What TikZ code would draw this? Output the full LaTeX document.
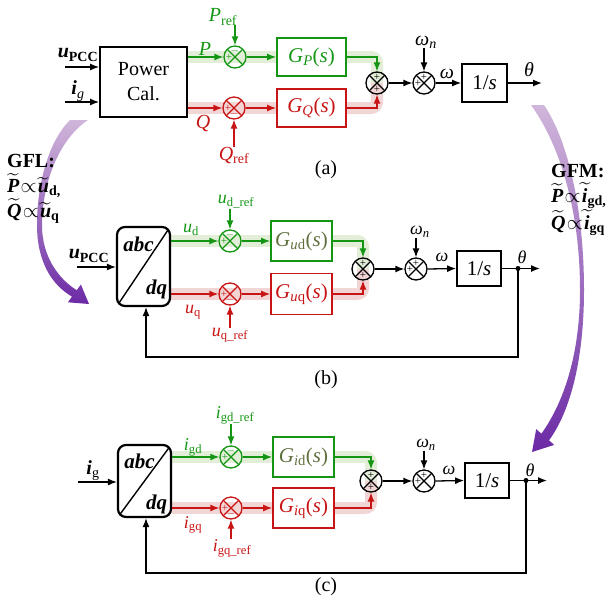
\documentclass[tikz,border=0pt]{standalone}
\usepackage{amsmath}
\usepackage{fontspec}
\setmainfont{Liberation Serif}
\usepackage{tikz}
\usetikzlibrary{positioning, arrows.meta, calc, backgrounds}

\definecolor{gcol}{RGB}{20,150,20}
\definecolor{rcol}{RGB}{200,20,20}
\definecolor{gbandc}{RGB}{226,238,216}
\definecolor{rbandc}{RGB}{242,213,213}
\definecolor{gtxt}{RGB}{95,112,62}
\definecolor{swlight}{RGB}{208,182,218}
\definecolor{swdark}{RGB}{108,42,165}

\newcommand{\tl}[1]{\widetilde{\text{\textbf{\textit{#1}}}}}
\newcommand{\prp}{\mkern1mu{\propto}\mkern1mu}

\tikzset{
  box/.style={draw, line width=1.8pt, inner sep=0pt, font=\fontsize{21}{24}\selectfont},
  gbox/.style={box, draw=gcol, text=gcol},
  rbox/.style={box, draw=rcol, text=rcol},
  dqbox/.style={draw, line width=2.2pt, rounded corners=8pt, minimum width=53pt, inner sep=0pt,
    path picture={\draw[line width=1.4pt] (path picture bounding box.south west) -- (path picture bounding box.north east);}},
  sumc/.style={circle, draw=#1, line width=1.3pt, minimum size=22pt, inner sep=0pt,
    path picture={\draw[#1, line width=1.1pt] (path picture bounding box.north west) -- (path picture bounding box.south east)
      (path picture bounding box.north east) -- (path picture bounding box.south west);}},
  sumc/.default=black,
  sgn/.style={inner sep=0pt, font=\fontsize{11}{11}\selectfont},
  sig/.style={-{Latex[length=9pt,width=7pt]}, line width=1.3pt},
  gline/.style={sig, draw=gcol},
  rline/.style={sig, draw=rcol},
  gband/.style={line width=12pt, draw=gbandc, rounded corners=6pt},
  rband/.style={line width=12pt, draw=rbandc, rounded corners=6pt},
  lbl/.style={inner sep=0pt},
  slbl/.style={inner sep=0pt, font=\fontsize{18}{21}\selectfont},
  tapdot/.style={circle, fill, inner sep=0pt, minimum size=5pt},
  bi/.style={inner sep=0pt, font=\fontsize{21}{24}\selectfont\bfseries\itshape},
  note/.style={inner sep=0pt, align=left, anchor=north west, font=\fontsize{20}{25}\selectfont\bfseries},
}

\begin{document}
\begin{tikzpicture}[x=1pt, y=-1pt, font=\fontsize{20}{24}\selectfont]
\useasboundingbox (0,0) rectangle (616,598);

% purple swooshes
\shade[top color=swlight, bottom color=swdark]
  (70,120) .. controls (48,142) and (37,185) .. (37,225)
  .. controls (37,262) and (52,285) .. (72,296.6) -- (67.9,302.3) -- (89,304)
  -- (80.9,284.5) -- (76.8,290.2) .. controls (60,280) and (42,258) .. (42,225)
  .. controls (42,185) and (58,140) .. (88,120) -- cycle;
\shade[top color=swlight, bottom color=swdark]
  (544,105) .. controls (568,140) and (584,210) .. (584,290)
  .. controls (584,360) and (570,412) .. (549,440.3) -- (554.2,444.9) -- (532,452)
  -- (536.2,429.1) -- (541.4,433.7) .. controls (562,405) and (580,358) .. (580,290)
  .. controls (580,215) and (562,148) .. (531,105) -- cycle;

\node[note] (gfl) at (7,154) {GFL:\\
  $\tl{P}\prp\tl{u}_{\text{\textbf{d,}}}$\\
  $\tl{Q}\prp\tl{u}_{\text{\textbf{q}}}$};
\node[note] (gfm) at (551,164) {GFM:\\
  $\tl{P}\prp\tl{i}_{\text{\textbf{gd,}}}$\\
  $\tl{Q}\prp\tl{i}_{\text{\textbf{gq}}}$};

%% (a)
\node[box, minimum width=87pt, minimum height=70pt, align=center, font=\fontsize{20}{25}\selectfont] (pcal) at (143.5,82) {Power\\Cal.};
\coordinate (uA) at (65,67);
\coordinate (iA) at (65,102);
\draw[sig] (uA) -- (uA -| pcal.west);
\draw[sig] (iA) -- (iA -| pcal.west);
\node[lbl] (uAl) at (78,55) {\textbf{\textit{u}}$_{\text{\textbf{PCC}}}$};
\node[lbl] (iAl) at (78,91) {\textbf{\textit{i}}$_{\textit{g}}$};

\node[sumc=gcol] (sP) at (235,57) {};
\node[sgn, text=gcol] (sPa) at ($(sP)+(-6,0)$) {+};
\node[sgn, text=gcol] (sPb) at ($(sP)+(0,-6)$) {$-$};
\node[lbl, text=gcol] (Pl) at (205,49) {\textit{P}};
\node[lbl, text=gcol] (Pref) at (223,17) {\textit{P}$_{\text{ref}}$};
\node[gbox, minimum width=69pt, minimum height=38pt] (GP) at (311.5,57) {\textit{G}$_{\textit{P}}$(\textit{s})};
\draw[gline] (pcal.east |- sP) -- (sP.west);
\draw[gline] (Pref.south -| sP) -- (sP.north);
\draw[gline] (sP.east) -- (GP.west);

\node[sumc=rcol] (sQ) at (234,108) {};
\node[sgn, text=rcol] (sQa) at ($(sQ)+(-6,0)$) {+};
\node[sgn, text=rcol] (sQb) at ($(sQ)+(0,6)$) {$-$};
\node[lbl, text=rcol] (Ql) at (203,123) {\textit{Q}};
\node[lbl, text=rcol] (Qref) at (234,155) {\textit{Q}$_{\text{ref}}$};
\node[rbox, minimum width=69pt, minimum height=38pt] (GQ) at (311.5,108) {\textit{G}$_{\textit{Q}}$(\textit{s})};
\draw[rline] (pcal.east |- sQ) -- (sQ.west);
\draw[rline] (Qref.north -| sQ) -- (sQ.south);
\draw[rline] (sQ.east) -- (GQ.west);

\node[sumc] (sA) at (377,83) {};
\node[sgn] (sAa) at ($(sA)+(0,-6)$) {+};
\node[sgn] (sAb) at ($(sA)+(0,6)$) {+};
\draw[gline] (GP.east) -| (sA.north);
\draw[rline] (GQ.east) -| (sA.south);
\node[sumc] (sB) at (424,83) {};
\node[sgn] (sBa) at ($(sB)+(0,-6)$) {+};
\node[sgn] (sBb) at ($(sB)+(-6,0)$) {+};
\draw[sig] (sA.east) -- (sB.west);
\node[lbl] (wnA) at (426,42) {\textit{ω}$_{\textit{n}}$};
\draw[sig] (wnA.south -| sB) -- (sB.north);
\node[box, minimum width=45pt, minimum height=38pt] (IA) at (484.5,83) {1/\textit{s}};
\draw[sig] (sB.east) -- (IA.west);
\node[lbl] (wA) at (447,74) {\textit{ω}};
\coordinate (oA) at (542,83);
\draw[sig] (IA.east) -- (oA);
\node[lbl] (thA) at (529,70) {\textit{θ}};
\node[lbl] (capA) at (326,170) {(a)};

%% (b)
\node[dqbox, minimum height=79pt] (T1) at (143.5,266.5) {};
\node[bi] (abc1) at ($(T1)+(-5,-22)$) {abc};
\node[bi] (dq1) at ($(T1)+(13,23)$) {dq};
\coordinate (uB) at (77,267);
\draw[sig] (uB) -- (uB -| T1.west);
\node[lbl] (uBl) at (89,256) {\textbf{\textit{u}}$_{\text{\textbf{PCC}}}$};

\node[sumc=gcol] (sd) at (230,241) {};
\node[sgn, text=gcol] (sda) at ($(sd)+(-6,0)$) {+};
\node[sgn, text=gcol] (sdb) at ($(sd)+(0,-6)$) {$-$};
\node[slbl, text=gcol] (udl) at (191,230) {\textit{u}$_{\text{d}}$};
\node[slbl, text=gcol] (udref) at (236,202) {\textit{u}$_{\text{d\_ref}}$};
\node[gbox, text=gtxt, minimum width=61pt, minimum height=40pt] (Gud) at (301.5,241) {\textit{G}$_{\textit{u}\text{d}}$(\textit{s})};
\draw[gline] (T1.east |- sd) -- (sd.west);
\draw[gline] (udref.south -| sd) -- (sd.north);
\draw[gline] (sd.east) -- (Gud.west);

\node[sumc=rcol] (sq) at (230,294) {};
\node[sgn, text=rcol] (sqa) at ($(sq)+(-6,0)$) {+};
\node[sgn, text=rcol] (sqb) at ($(sq)+(0,6)$) {$-$};
\node[slbl, text=rcol] (uql) at (193,312) {\textit{u}$_{\text{q}}$};
\node[slbl, text=rcol] (uqref) at (230,335) {\textit{u}$_{\text{q\_ref}}$};
\node[rbox, minimum width=61pt, minimum height=41pt] (Guq) at (301.5,294) {\textit{G}$_{\textit{u}\text{q}}$(\textit{s})};
\draw[rline] (T1.east |- sq) -- (sq.west);
\draw[rline] (uqref.north -| sq) -- (sq.south);
\draw[rline] (sq.east) -- (Guq.west);

\node[sumc] (sC) at (363,269) {};
\node[sgn] (sCa) at ($(sC)+(0,-6)$) {+};
\node[sgn] (sCb) at ($(sC)+(0,6)$) {+};
\draw[gline] (Gud.east) -| (sC.north);
\draw[rline] (Guq.east) -| (sC.south);
\node[sumc] (sD) at (416,269) {};
\node[sgn] (sDa) at ($(sD)+(0,-6)$) {+};
\node[sgn] (sDb) at ($(sD)+(-6,0)$) {+};
\draw[sig] (sC.east) -- (sD.west);
\node[slbl] (wnB) at (420,232) {\textit{ω}$_{\textit{n}}$};
\draw[sig] (wnB.south -| sD) -- (sD.north);
\node[box, minimum width=44pt, minimum height=35pt] (IB) at (479,268.5) {1/\textit{s}};
\draw[sig] (sD.east) -- (IB.west);
\node[slbl] (wB) at (442,257) {\textit{ω}};
\node[tapdot] (dB) at (518,268.5) {};
\coordinate (oB) at (540,268.5);
\draw[sig] (IB.east) -- (oB);
\node[slbl] (thB) at (522,257) {\textit{θ}};
\coordinate (fbB) at (146,357);
\draw[sig] (dB.center) |- (fbB) -- (fbB |- T1.south);
\node[lbl] (capB) at (326,380) {(b)};

%% (c)
\node[dqbox, minimum height=72pt] (T2) at (144.5,481) {};
\node[bi] (abc2) at ($(T2)+(-5,-20)$) {abc};
\node[bi] (dq2) at ($(T2)+(12,23)$) {dq};
\coordinate (iC) at (78,482);
\draw[sig] (iC) -- (iC -| T2.west);
\node[lbl] (iCl) at (93,471) {\textbf{\textit{i}}$_{\text{g}}$};

\node[sumc=gcol] (sgd) at (231,457) {};
\node[sgn, text=gcol] (sgda) at ($(sgd)+(-6,0)$) {+};
\node[sgn, text=gcol] (sgdb) at ($(sgd)+(0,-6)$) {$-$};
\node[slbl, text=gcol] (igdl) at (193,447) {\textit{i}$_{\text{gd}}$};
\node[slbl, text=gcol] (igdref) at (235,415) {\textit{i}$_{\text{gd\_ref}}$};
\node[gbox, text=gtxt, minimum width=61pt, minimum height=40pt] (Gid) at (303.5,457) {\textit{G}$_{\textit{i}\text{d}}$(\textit{s})};
\draw[gline] (T2.east |- sgd) -- (sgd.west);
\draw[gline] (igdref.south -| sgd) -- (sgd.north);
\draw[gline] (sgd.east) -- (Gid.west);

\node[sumc=rcol] (sgq) at (231,508) {};
\node[sgn, text=rcol] (sgqa) at ($(sgq)+(-6,0)$) {+};
\node[sgn, text=rcol] (sgqb) at ($(sgq)+(0,6)$) {$-$};
\node[slbl, text=rcol] (igql) at (193,525) {\textit{i}$_{\text{gq}}$};
\node[slbl, text=rcol] (igqref) at (232,548) {\textit{i}$_{\text{gq\_ref}}$};
\node[rbox, minimum width=61pt, minimum height=40pt] (Giq) at (303.5,508) {\textit{G}$_{\textit{i}\text{q}}$(\textit{s})};
\draw[rline] (T2.east |- sgq) -- (sgq.west);
\draw[rline] (igqref.north -| sgq) -- (sgq.south);
\draw[rline] (sgq.east) -- (Giq.west);

\node[sumc] (sE) at (371,481) {};
\node[sgn] (sEa) at ($(sE)+(0,-6)$) {+};
\node[sgn] (sEb) at ($(sE)+(0,6)$) {+};
\draw[gline] (Gid.east) -| (sE.north);
\draw[rline] (Giq.east) -| (sE.south);
\node[sumc] (sF) at (424,481) {};
\node[sgn] (sFa) at ($(sF)+(0,-6)$) {+};
\node[sgn] (sFb) at ($(sF)+(-6,0)$) {+};
\draw[sig] (sE.east) -- (sF.west);
\node[slbl] (wnC) at (426,445) {\textit{ω}$_{\textit{n}}$};
\draw[sig] (wnC.south -| sF) -- (sF.north);
\node[box, minimum width=44pt, minimum height=35pt] (IC) at (487,480.5) {1/\textit{s}};
\draw[sig] (sF.east) -- (IC.west);
\node[slbl] (wC) at (449,470) {\textit{ω}};
\node[tapdot] (dC) at (526,480.5) {};
\coordinate (oC) at (547,480.5);
\draw[sig] (IC.east) -- (oC);
\node[slbl] (thC) at (530,470) {\textit{θ}};
\coordinate (fbC) at (146,573);
\draw[sig] (dC.center) |- (fbC) -- (fbC |- T2.south);
\node[lbl] (capC) at (326,587) {(c)};

% highlight bands
\begin{scope}[on background layer]
  \draw[gband] (pcal.east |- sP) -- (GP.west);
  \draw[gband] (GP.east) -| (sA.center);
  \draw[rband] (pcal.east |- sQ) -- (GQ.west);
  \draw[rband] (GQ.east) -| (sA.center);
  \draw[gband] (T1.east |- sd) -- (Gud.west);
  \draw[gband] (Gud.east) -| (sC.center);
  \draw[rband] (T1.east |- sq) -- (Guq.west);
  \draw[rband] (Guq.east) -| (sC.center);
  \draw[gband] (T2.east |- sgd) -- (Gid.west);
  \draw[gband] (Gid.east) -| (sE.center);
  \draw[rband] (T2.east |- sgq) -- (Giq.west);
  \draw[rband] (Giq.east) -| (sE.center);
\end{scope}
\end{tikzpicture}
\end{document}
